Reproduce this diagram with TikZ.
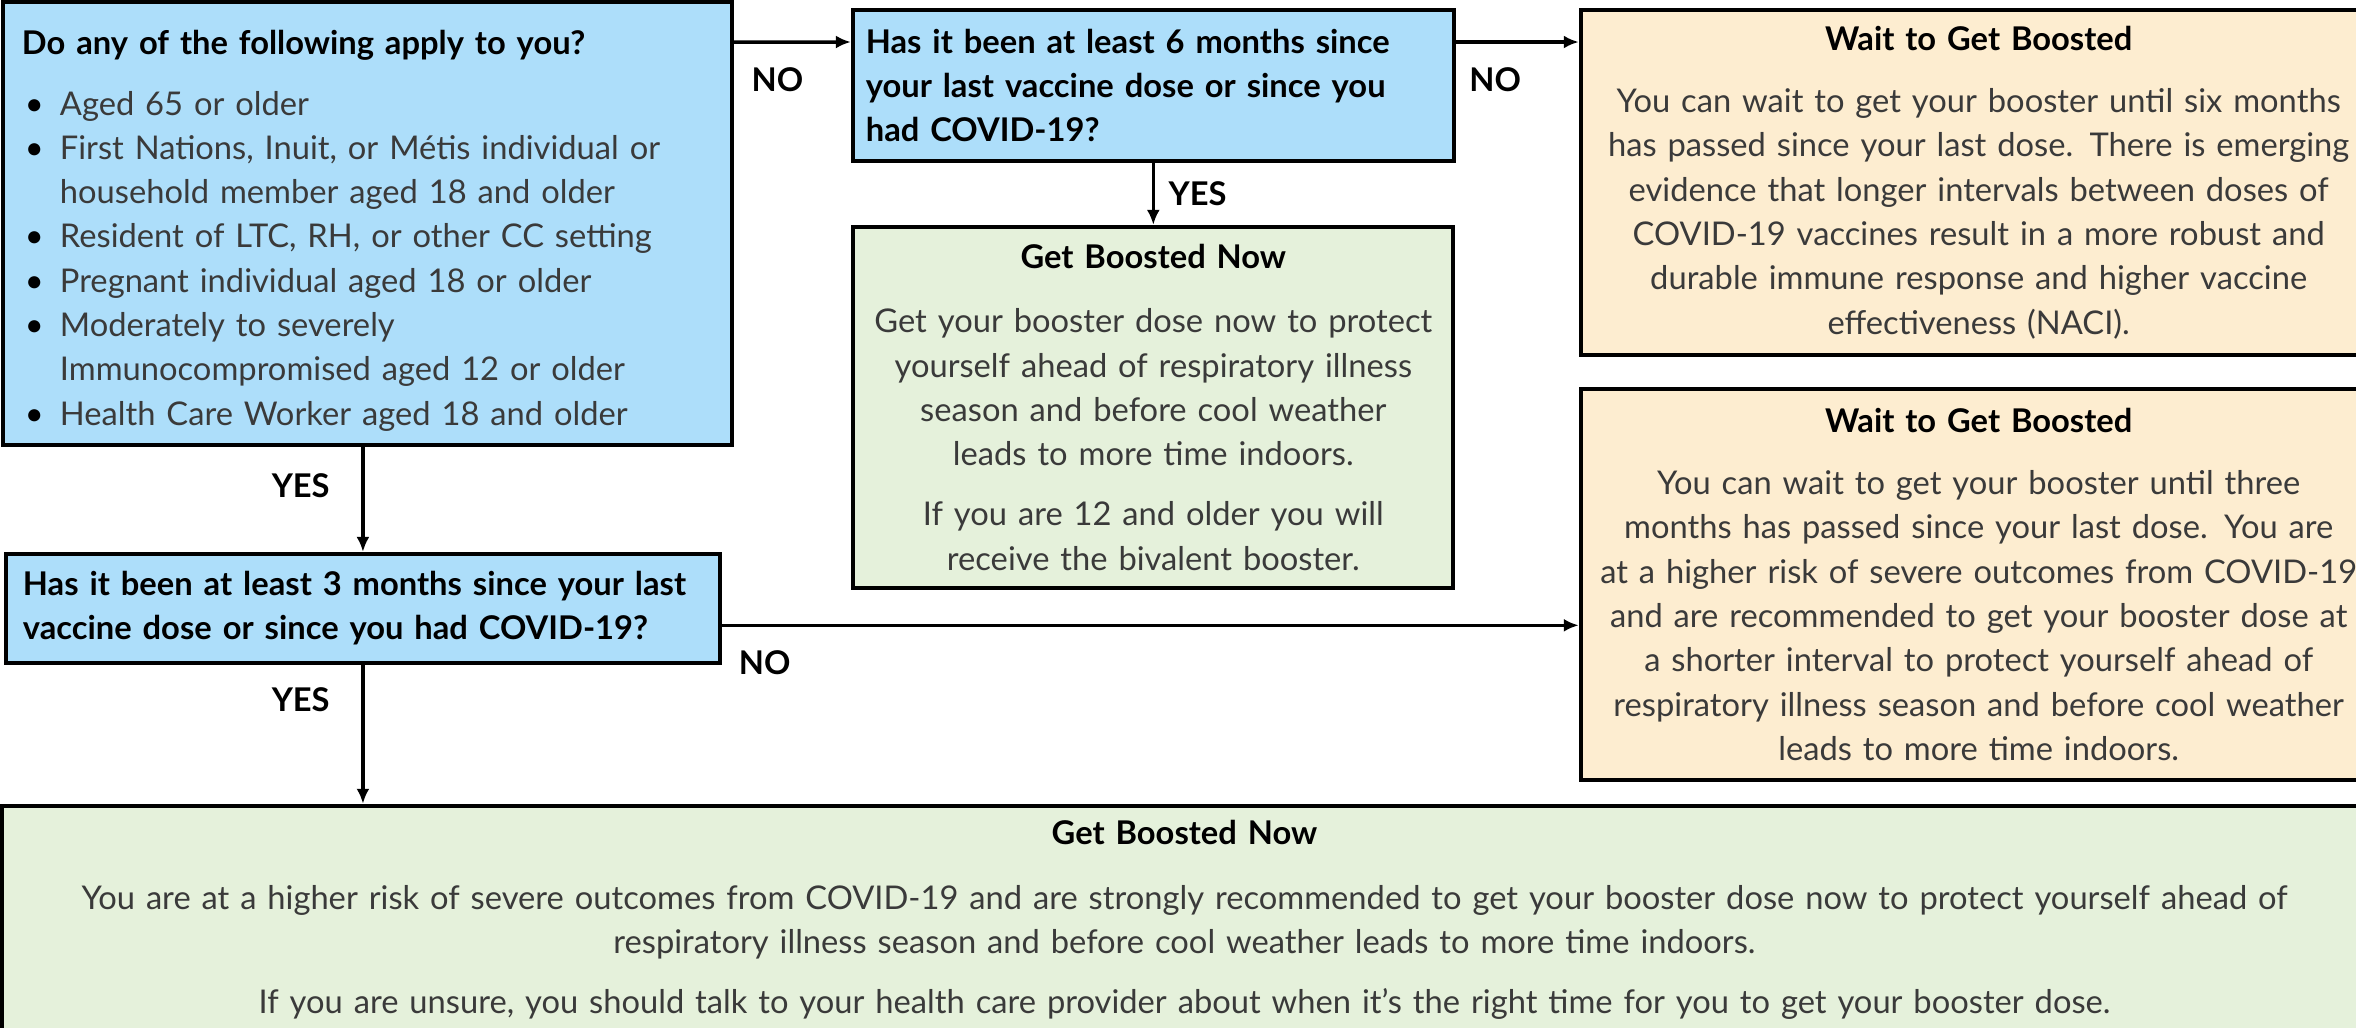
\documentclass[tikz,border=0pt]{standalone}
\usepackage{fontspec}
\setmainfont{Lato}
\usetikzlibrary{positioning,arrows.meta}

\definecolor{askblue}{RGB}{173,222,250}
\definecolor{nowgreen}{RGB}{229,241,219}
\definecolor{waitcream}{RGB}{253,237,208}
\definecolor{bodygray}{RGB}{58,58,58}

\newcommand{\head}[1]{\textcolor{black}{\bfseries #1}}
\newcommand{\bul}{\hspace*{0.03cm}\makebox[0.35cm][l]{\textcolor{black}{\textbullet}}}
\newcommand{\cont}{\hspace*{0.38cm}}

\begin{document}
\begin{tikzpicture}[
    >={Latex[length=1.5mm,width=1.3mm]},
    box/.style={draw, line width=1.1pt, inner ysep=0pt, text=bodygray, font=\fontsize{9.3}{12.6}\selectfont},
    ask/.style={box, fill=askblue, text=black, align=left, font=\fontsize{9.3}{12.6}\selectfont\bfseries},
    now/.style={box, fill=nowgreen, align=center},
    wait/.style={box, fill=waitcream, align=center},
    answer/.style={font=\fontsize{9.3}{12}\selectfont\bfseries, inner sep=1pt},
    arrow/.style={->, line width=1pt}
  ]
  \useasboundingbox (0,0) rectangle (23.56,-10.27);

  \node[box, fill=askblue, align=left, anchor=north west, text width=6.91cm, inner xsep=0.19cm, minimum height=4.43cm] (apply) at (0.01,0)
    {\rule{0pt}{0.39cm}\head{Do any of the following apply to you?}\\[0.16cm]
     \bul Aged 65 or older\\
     \bul First Nations, Inuit, or Métis individual or\\
     \cont household member aged 18 and older\\
     \bul Resident of LTC, RH, or other CC setting\\
     \bul Pregnant individual aged 18 or older\\
     \bul Moderately to severely\\
     \cont Immunocompromised aged 12 or older\\
     \bul Health Care Worker aged 18 and older};

  \node[ask, below right=0.08cm and 1.17cm of apply.north east, text width=5.75cm, inner xsep=0.13cm, minimum height=1.51cm] (six)
    {Has it been at least 6 months since\\
     your last vaccine dose or since you\\
     had COVID-19?};

  \node[now, below=0.62cm of six, text width=5.8cm, inner xsep=0.1cm, minimum height=3.61cm] (boostA)
    {\head{Get Boosted Now}\\[0.2cm]
     Get your booster dose now to protect\\
     yourself ahead of respiratory illness\\
     season and before cool weather\\
     leads to more time indoors.\\[0.16cm]
     If you are 12 and older you will\\
     receive the bivalent booster.};

  \node[wait, below right=0cm and 1.23cm of six.north east, text width=7.9cm, inner xsep=0.03cm, minimum height=3.45cm] (waitA)
    {\head{Wait to Get Boosted}\\[0.18cm]
     You can wait to get your booster until six months\\
     has passed since your last dose. There is emerging\\
     evidence that longer intervals between doses of\\
     COVID-19 vaccines result in a more robust and\\
     durable immune response and higher vaccine\\
     effectiveness (NACI).};

  \node[wait, below=0.30cm of waitA, text width=7.9cm, inner xsep=0.03cm, minimum height=3.91cm] (waitB)
    {\head{Wait to Get Boosted}\\[0.18cm]
     You can wait to get your booster until three\\
     months has passed since your last dose. You are\\
     at a higher risk of severe outcomes from COVID-19\\
     and are recommended to get your booster dose at\\
     a shorter interval to protect yourself ahead of\\
     respiratory illness season and before cool weather\\
     leads to more time indoors.};

  \node[ask, below right=1.05cm and 0.03cm of apply.south west, text width=6.8cm, inner xsep=0.17cm, minimum height=1.09cm] (three)
    {Has it been at least 3 months since your last\\
     vaccine dose or since you had COVID-19?};

  \node[now, below right=1.39cm and -0.04cm of three.south west, text width=23.45cm, inner xsep=0.1cm, minimum height=2.29cm] (boostB)
    {\head{Get Boosted Now}\\[0.2cm]
     You are at a higher risk of severe outcomes from COVID-19 and are strongly recommended to get your booster dose now to protect yourself ahead of\\
     respiratory illness season and before cool weather leads to more time indoors.\\[0.16cm]
     If you are unsure, you should talk to your health care provider about when it's the right time for you to get your booster dose.};

  \coordinate (noline) at ([yshift=-0.17cm]three.east);

  \draw[arrow] ([yshift=-0.42cm]apply.north east) -- ([yshift=-0.34cm]six.north west) node[midway, below=0.2cm, xshift=-0.15cm, answer] {NO};
  \draw[arrow] ([yshift=-0.34cm]six.north east) -- ([yshift=-0.34cm]waitA.north west) node[midway, below=0.2cm, xshift=-0.22cm, answer] {NO};
  \draw[arrow] (six) -- (boostA) node[midway, right=0.1cm, answer] {YES};
  \draw[arrow] (apply.south -| three.north) -- (three.north) node[pos=0.37, left=0.28cm, answer] {YES};
  \draw[arrow] (noline) -- (noline -| waitB.west) node[pos=0.05, below=0.2cm, answer] {NO};
  \draw[arrow] (three.south) -- (three.south |- boostB.north) node[pos=0.25, left=0.28cm, answer] {YES};
\end{tikzpicture}
\end{document}
